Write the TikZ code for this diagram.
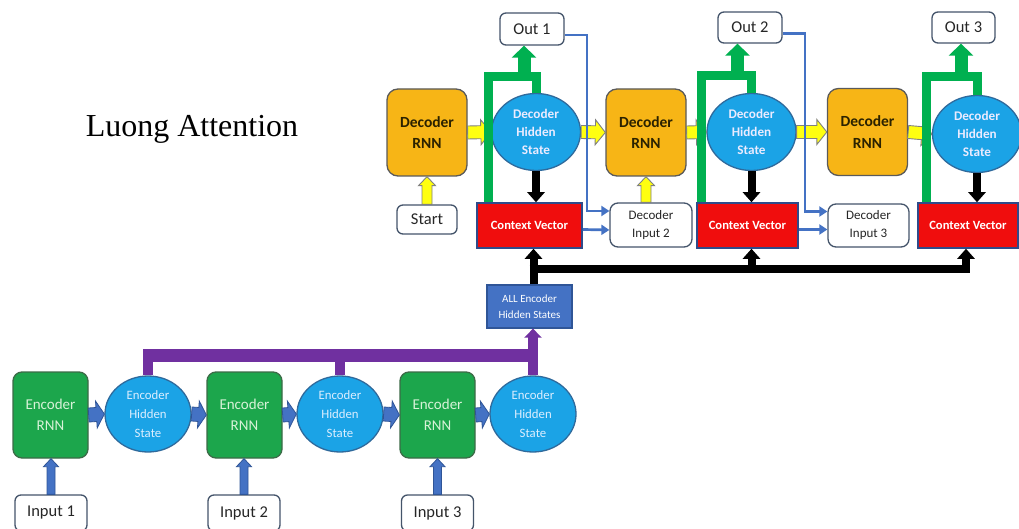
\documentclass[tikz,border=0pt]{standalone}
\usepackage{fontspec}
\setmainfont{Carlito}
\newfontfamily\titlefont{Liberation Serif}
\usetikzlibrary{calc,arrows.meta,shapes.geometric}

\definecolor{encgreen}{HTML}{1CA64C}
\definecolor{encborder}{HTML}{3C6B47}
\definecolor{enctext}{HTML}{D8F2D8}
\definecolor{skyblue}{HTML}{1BA3E6}
\definecolor{skyborder}{HTML}{2F6A9C}
\definecolor{skytext}{HTML}{DCEEFF}
\definecolor{arrowblue}{HTML}{4472C4}
\definecolor{arrowborder}{HTML}{2F5597}
\definecolor{slate}{HTML}{44546A}
\definecolor{busviolet}{HTML}{7030A0}
\definecolor{decgold}{HTML}{F7B516}
\definecolor{decborder}{HTML}{5A5A5A}
\definecolor{dectext}{HTML}{2B2200}
\definecolor{forkgreen}{HTML}{00B050}
\definecolor{ctxred}{HTML}{F00D0D}
\definecolor{ctxborder}{HTML}{2F4B8A}
\definecolor{arrowyellow}{HTML}{FFFF10}
\definecolor{yborder}{HTML}{808080}

% outlined block arrow: style, start, end, half shaft, half head, head length
\newcommand\blockarrow[6]{%
  \coordinate (ba-h) at ($(#3)!#6!(#2)$);
  \draw[#1] ($(#2)!#4!90:(#3)$) -- ($(ba-h)!#4!90:(#3)$) -- ($(ba-h)!#5!90:(#3)$)
    -- (#3) -- ($(ba-h)!#5!-90:(#3)$) -- ($(ba-h)!#4!-90:(#3)$)
    -- ($(#2)!#4!-90:(#3)$) -- cycle;}

\tikzset{
  encbox/.style={draw=encborder, fill=encgreen, rounded corners=9pt, line width=1.3pt,
    minimum width=75pt, minimum height=86pt, inner sep=0pt, align=center,
    text=enctext, font=\fontsize{15}{21}\selectfont},
  enchid/.style={ellipse, draw=skyborder, fill=skyblue, line width=1.3pt,
    minimum width=86pt, minimum height=76pt, inner xsep=0pt, inner ysep=-6pt,
    align=center, text=skytext, font=\fontsize{12.8}{19}\selectfont},
  iobox/.style={draw=slate, fill=white, rounded corners=6pt, line width=1.3pt,
    inner sep=0pt, align=center, text=black!85, font=\fontsize{16.5}{18}\selectfont},
  decbox/.style={draw=decborder, fill=decgold, rounded corners=11pt, line width=1.3pt,
    minimum width=80pt, minimum height=87pt, inner sep=0pt, align=center,
    text=dectext, font=\bfseries\fontsize{15.5}{21.5}\selectfont},
  dechid/.style={ellipse, draw=skyborder, fill=skyblue, line width=1.3pt,
    minimum width=89pt, minimum height=77pt, inner xsep=0pt, inner ysep=-6pt,
    align=center, text=white!92!blue, font=\bfseries\fontsize{13.2}{18.3}\selectfont},
  ctxbox/.style={draw=ctxborder, fill=ctxred, line width=1.5pt, minimum height=45pt,
    inner sep=0pt, text=white, font=\bfseries\fontsize{12.6}{14}\selectfont},
  dinbox/.style={draw=slate, fill=white, rounded corners=8pt, line width=1.3pt,
    inner sep=0pt, align=center, text=black!85, font=\fontsize{13}{18}\selectfont},
  allbox/.style={draw=arrowborder, fill=arrowblue, line width=1.3pt,
    minimum width=85pt, minimum height=43pt, inner sep=0pt, align=center,
    text=white, font=\fontsize{11}{16}\selectfont},
  bluearrow/.style={draw=arrowborder, fill=arrowblue, line width=0.8pt, line join=miter},
  yellowarrow/.style={draw=yborder, fill=arrowyellow, line width=0.9pt, line join=miter},
  forkline/.style={draw=forkgreen, line width=9pt, line join=miter},
  forkarrow/.style={draw=forkgreen, line width=13pt, -{Triangle[width=24pt,length=12pt]}},
  violetline/.style={draw=busviolet, line width=10pt},
  violetbar/.style={draw=busviolet, line width=13pt},
  violetarrow/.style={draw=busviolet, line width=10pt, -{Triangle[width=17pt,length=9pt]}},
  blackline/.style={draw=black, line width=8pt},
  blackarrow/.style={draw=black, line width=8pt, -{Triangle[width=17pt,length=10pt]}},
  thinblue/.style={draw=arrowblue, line width=2.7pt, -{Triangle[width=10pt,length=8pt]}},
}

\begin{document}
\begin{tikzpicture}[x=1pt, y=-1pt]
  \fill[white] (0,0) rectangle (1019,529);
  \useasboundingbox (0,0) rectangle (1019,529);

  % title
  \node[anchor=base, inner sep=0pt, font=\titlefont\fontsize{32}{32}\selectfont] (title) at (192,137) {Luong Attention};

  % ---------------- encoder ----------------
  \node[encbox] (enc1) at (50.5,415) {Encoder\\RNN};
  \node[encbox] (enc2) at (244.5,415) {Encoder\\RNN};
  \node[encbox] (enc3) at (437.5,415) {Encoder\\RNN};
  \node[enchid] (eh1) at (148,414) {Encoder\\Hidden\\State};
  \node[enchid] (eh2) at (340,414) {Encoder\\Hidden\\State};
  \node[enchid] (eh3) at (533,414) {Encoder\\Hidden\\State};
  \node[iobox, minimum width=72pt, minimum height=36pt] (in1) at (51,513) {Input 1};
  \node[iobox, minimum width=72pt, minimum height=36pt] (in2) at (244,513) {Input 2};
  \node[iobox, minimum width=72pt, minimum height=36pt] (in3) at (437.5,513) {Input 3};
  \node[allbox] (allenc) at (529.5,306.5) {ALL Encoder\\Hidden States};

  \blockarrow{bluearrow}{enc1.east}{eh1.west}{7pt}{13.5pt}{8pt}
  \blockarrow{bluearrow}{eh1.east}{enc2.west}{7pt}{13.5pt}{8pt}
  \blockarrow{bluearrow}{enc2.east}{eh2.west}{7pt}{13.5pt}{8pt}
  \blockarrow{bluearrow}{eh2.east}{enc3.west}{7pt}{13.5pt}{8pt}
  \blockarrow{bluearrow}{enc3.east}{eh3.west}{7pt}{13.5pt}{8pt}
  \blockarrow{bluearrow}{in1.north}{in1.north |- enc1.south}{4pt}{7.5pt}{8pt}
  \blockarrow{bluearrow}{in2.north}{in2.north |- enc2.south}{4pt}{7.5pt}{8pt}
  \blockarrow{bluearrow}{in3.north}{in3.north |- enc3.south}{4pt}{7.5pt}{8pt}

  % hidden states gathered into one bus
  \coordinate (vbar) at (0,355);
  \draw[violetline] (eh1.north) -- (eh1.north |- vbar);
  \draw[violetline] (eh2.north) -- (eh2.north |- vbar);
  \draw[violetbar] ($(eh1.north |- vbar)+(-5,0)$) -- ($(eh3.north |- vbar)+(5,0)$);
  \draw[violetarrow] (eh3.north) -- (eh3.north |- allenc.south);

  % ---------------- decoder ----------------
  \node[decbox] (drnn1) at (427,132.5) {Decoder\\RNN};
  \node[decbox] (drnn2) at (646,132.5) {Decoder\\RNN};
  \node[decbox] (drnn3) at (867.5,132) {Decoder\\RNN};
  \node[dechid] (dh1) at (536,132) {Decoder\\Hidden\\State};
  \node[dechid] (dh2) at (751.5,132) {Decoder\\Hidden\\State};
  \node[dechid] (dh3) at (977,134) {Decoder\\Hidden\\State};
  \node[ctxbox, minimum width=105pt] (cv1) at (529.5,225.5) {Context Vector};
  \node[ctxbox, minimum width=101pt] (cv2) at (747.5,225.5) {Context Vector};
  \node[ctxbox, minimum width=100pt] (cv3) at (968,225.5) {Context Vector};
  \node[iobox, minimum width=60pt, minimum height=29pt] (start) at (427,219.5) {Start};
  \node[dinbox, minimum width=82pt, minimum height=44pt] (din2) at (651,225) {Decoder\\Input 2};
  \node[dinbox, minimum width=81pt, minimum height=43pt] (din3) at (868.5,225.5) {Decoder\\Input 3};
  \node[iobox, minimum width=64pt, minimum height=32pt] (out1) at (532,29) {Out 1};
  \node[iobox, minimum width=64pt, minimum height=31pt] (out2) at (750,27.5) {Out 2};
  \node[iobox, minimum width=63pt, minimum height=31pt] (out3) at (963.5,27.5) {Out 3};

  % yellow flow through the decoder
  \blockarrow{yellowarrow}{drnn1.east}{dh1.west}{6.5pt}{12.5pt}{10pt}
  \blockarrow{yellowarrow}{dh1.east}{drnn2.west}{6.5pt}{12.5pt}{10pt}
  \blockarrow{yellowarrow}{drnn2.east}{dh2.west}{6.5pt}{12.5pt}{10pt}
  \blockarrow{yellowarrow}{dh2.east}{drnn3.west}{6.5pt}{12.5pt}{10pt}
  \blockarrow{yellowarrow}{drnn3.east}{dh3.west}{6.5pt}{12.5pt}{10pt}
  \blockarrow{yellowarrow}{start.north}{start.north |- drnn1.south}{5pt}{8.5pt}{9pt}
  \blockarrow{yellowarrow}{drnn2.south |- din2.north}{drnn2.south}{5pt}{8.5pt}{9pt}

  % hidden state to context vector
  \draw[blackarrow] (dh1.south) -- (dh1.south |- cv1.north);
  \draw[blackarrow] (dh2.south) -- (dh2.south |- cv2.north);
  \draw[blackarrow] (dh3.south) -- (dh3.south |- cv3.north);

  % green forks: context vector and hidden state to output
  \draw[forkline] ([xshift=12pt]cv1.north west) |- ([yshift=16pt]dh1.north) -- (dh1.north);
  \draw[forkline] ([xshift=5pt]cv2.north west) |- ([yshift=17pt]dh2.north) -- (dh2.north);
  \draw[forkline] ([xshift=9pt]cv3.north west) |- ([yshift=18pt]dh3.north) -- (dh3.north);
  \coordinate (f1) at ([xshift=-12pt,yshift=16pt]dh1.north);
  \coordinate (f2) at ([xshift=-14pt,yshift=17pt]dh2.north);
  \coordinate (f3) at ([xshift=-16pt,yshift=18pt]dh3.north);
  \draw[forkarrow] (f1) -- (f1 |- out1.south);
  \draw[forkarrow] (f2) -- (f2 |- out2.south);
  \draw[forkarrow] (f3) -- (f3 |- out3.south);

  % encoder states delivered to every context vector
  \coordinate (kbar) at (0,269);
  \coordinate (ks) at ($(allenc.north)+(4,0)$);
  \draw[blackarrow] (ks) -- (ks |- cv1.south);
  \draw[blackline] ($(ks |- kbar)+(-4,0)$) -- ($(cv3.south |- kbar)+(2,0)$);
  \draw[blackarrow] ($(cv2.south |- kbar)+(4,0)$) -- ($(cv2.south)+(4,0)$);
  \draw[blackarrow] ($(cv3.south |- kbar)+(-2,0)$) -- ($(cv3.south)+(-2,0)$);

  % outputs and context vectors fed to the next decoder input
  \coordinate (o1) at ($(out1.east)+(0,6)$);
  \coordinate (o2) at ($(out2.east)+(0,6)$);
  \coordinate (d2a) at ($(din2.west)+(0,-14)$);
  \coordinate (d3a) at ($(din3.west)+(0,-14)$);
  \coordinate (bx1) at (587,0);
  \coordinate (bx2) at (805,0);
  \draw[thinblue] (o1) -| (bx1 |- d2a) -- (d2a);
  \draw[thinblue] (o2) -| (bx2 |- d3a) -- (d3a);
  \draw[thinblue] ($(cv1.east)+(0,4)$) -- ($(din2.west)+(0,5)$);
  \draw[thinblue] ($(cv2.east)+(0,4)$) -- ($(din3.west)+(0,4)$);
\end{tikzpicture}
\end{document}
